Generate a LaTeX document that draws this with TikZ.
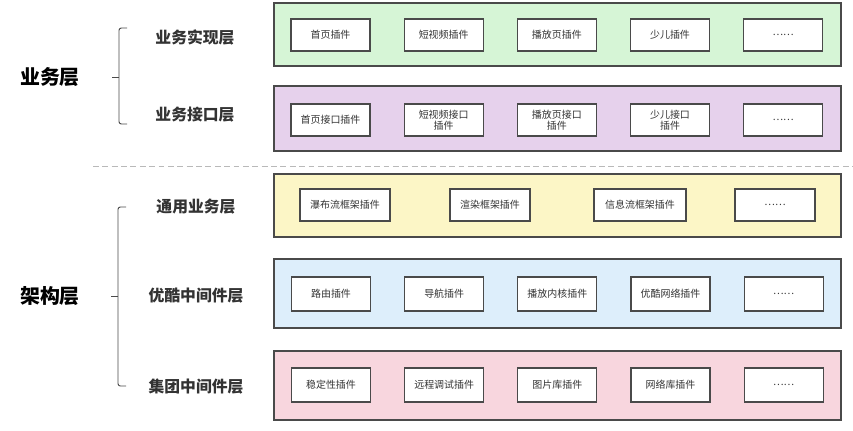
\documentclass[tikz,border=0pt]{standalone}
\usepackage{fontspec}
\setmainfont{Noto Sans CJK SC}
\usepackage{tikz}
\usetikzlibrary{positioning}
\definecolor{edge}{HTML}{4A4A4A}
\definecolor{ink}{HTML}{333333}
\definecolor{greenbg}{HTML}{D6F5D6}
\definecolor{purplebg}{HTML}{E6D1EC}
\definecolor{yellowbg}{HTML}{FCF6C6}
\definecolor{bluebg}{HTML}{DDEEFB}
\definecolor{pinkbg}{HTML}{F8D6DE}

\begin{document}
\begin{tikzpicture}[node distance=0.99cm,
  panel/.style={draw=edge,line width=1.1pt,minimum width=17.01cm,inner sep=0pt},
  plug/.style={draw=edge,fill=white,line width=1pt,minimum width=2.37cm,minimum height=0.96cm,
    inner sep=1pt,align=center,font=\fontsize{8.5}{9.5}\selectfont,text=ink},
  grp/.style={font=\fontsize{17}{20}\selectfont\bfseries,text=black},
  sub/.style={font=\fontsize{13.5}{16}\selectfont\bfseries,text=ink},
  brace/.style={draw=edge,line width=0.8pt,rounded corners=2pt},
  every node/.style={inner sep=2pt}]
\useasboundingbox (0,0) rectangle (25.59,-12.93);
% panels
\node[panel,fill=greenbg,minimum height=1.89cm] (p1) at (16.725,-1.035) {};
\node[panel,fill=purplebg,minimum height=1.95cm] (p2) at (16.725,-3.555) {};
\node[panel,fill=yellowbg,minimum height=1.89cm] (p3) at (16.725,-6.165) {};
\node[panel,fill=bluebg,minimum height=2.07cm] (p4) at (16.725,-8.805) {};
\node[panel,fill=pinkbg,minimum height=2.07cm] (p5) at (16.725,-11.565) {};
\draw[gray!55,line width=0.8pt,dash pattern=on 5pt off 3pt] (2.79,-4.98) coordinate (d0) -- (25.59,-4.98) coordinate (d1);
% 业务实现层
\node[plug] (a1) at (9.915,-1.05) {首页插件};
\node[plug,right=of a1] (a2) {短视频插件};
\node[plug,right=of a2] (a3) {播放页插件};
\node[plug,right=of a3] (a4) {少儿插件};
\node[plug,right=of a4] (a5) {……};
% 业务接口层
\node[plug] (b1) at (9.915,-3.6) {首页接口插件};
\node[plug,right=of b1] (b2) {短视频接口\\插件};
\node[plug,right=of b2] (b3) {播放页接口\\插件};
\node[plug,right=of b3] (b4) {少儿接口\\插件};
\node[plug,right=of b4] (b5) {……};
% 通用业务层
\node[plug,minimum width=2.7cm] (c1) at (10.35,-6.15) {瀑布流框架插件};
\node[plug,minimum width=2.4cm] (c2) at (14.7,-6.15) {渲染框架插件};
\node[plug,minimum width=2.76cm] (c3) at (19.2,-6.15) {信息流框架插件};
\node[plug,minimum width=2.4cm] (c4) at (23.25,-6.15) {……};
% 优酷中间件层
\node[plug,minimum height=1.02cm] (e1) at (9.93,-8.82) {路由插件};
\node[plug,minimum height=1.02cm,right=of e1] (e2) {导航插件};
\node[plug,minimum height=1.02cm,right=of e2] (e3) {播放内核插件};
\node[plug,minimum height=1.02cm,right=of e3] (e4) {优酷网络插件};
\node[plug,minimum height=1.02cm,right=of e4] (e5) {……};
% 集团中间件层
\node[plug,minimum height=1.02cm] (f1) at (9.93,-11.55) {稳定性插件};
\node[plug,minimum height=1.02cm,right=of f1] (f2) {远程调试插件};
\node[plug,minimum height=1.02cm,right=of f2] (f3) {图片库插件};
\node[plug,minimum height=1.02cm,right=of f3] (f4) {网络库插件};
\node[plug,minimum height=1.02cm,right=of f4] (f5) {……};
% left labels
\node[grp] (biz) at (1.5,-2.31) {业务层};
\node[sub] (biz1) at (5.85,-1.11) {业务实现层};
\node[sub] (biz2) at (5.85,-3.45) {业务接口层};
\node[grp] (arch) at (1.5,-8.88) {架构层};
\node[sub] (arch1) at (5.88,-6.21) {通用业务层};
\node[sub] (arch2) at (5.88,-8.88) {优酷中间件层};
\node[sub] (arch3) at (5.88,-11.61) {集团中间件层};
% braces
\draw[brace] (3.81,-0.84) -| (3.57,-3.72) -- (3.81,-3.72);
\draw[brace] (3.57,-2.31) -- (3.36,-2.31);
\draw[brace] (3.78,-6.21) -| (3.54,-11.58) -- (3.78,-11.58);
\draw[brace] (3.54,-8.88) -- (3.33,-8.88);
\end{tikzpicture}
\end{document}
